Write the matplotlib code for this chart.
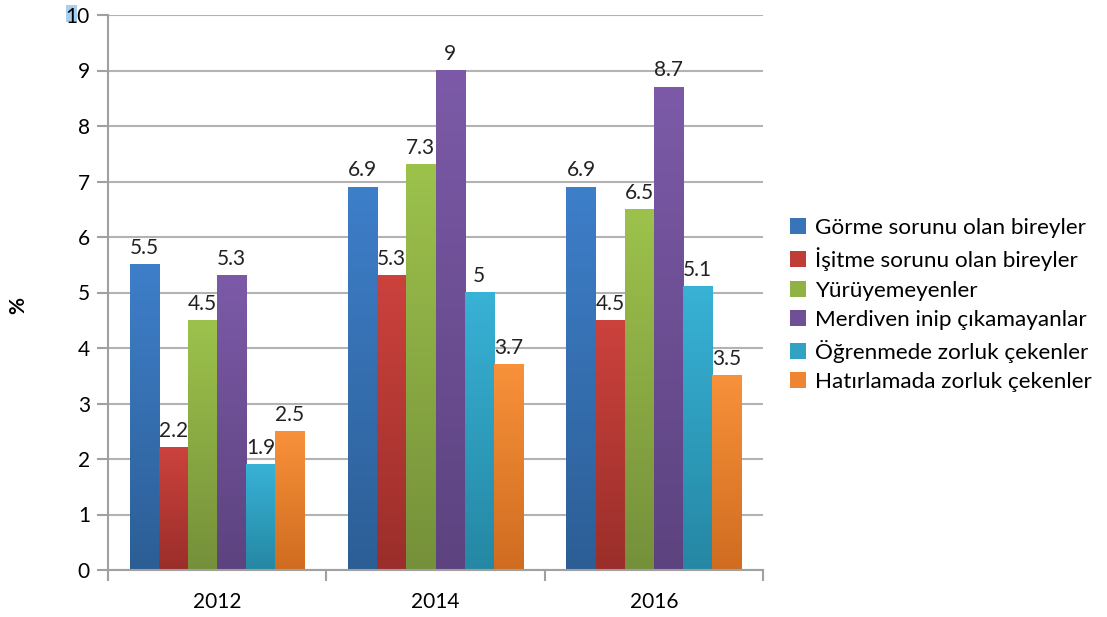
import numpy as np
import matplotlib
matplotlib.use("Agg")
import matplotlib.pyplot as plt
from matplotlib.colors import LinearSegmentedColormap
from matplotlib.patches import Patch, Rectangle

plt.rcParams['font.family'] = ['Lato', 'DejaVu Sans']

# data
years = ["2012", "2014", "2016"]
series = [
    "Görme sorunu olan bireyler",
    "İşitme sorunu olan bireyler",
    "Yürüyemeyenler",
    "Merdiven inip çıkamayanlar",
    "Öğrenmede zorluk çekenler",
    "Hatırlamada zorluk çekenler",
]
gorme = [5.5, 6.9, 6.9]
isitme = [2.2, 5.3, 4.5]
yuruyemeyen = [4.5, 7.3, 6.5]
merdiven = [5.3, 9.0, 8.7]
ogrenme = [1.9, 5.0, 5.1]
hatirlama = [2.5, 3.7, 3.5]
values = [gorme, isitme, yuruyemeyen, merdiven, ogrenme, hatirlama]

# top / bottom colours for the gradient fill
top_colors = ["#3e7fca", "#cc423d", "#9dc24c", "#7c5aa8", "#38b2d6", "#f8913a"]
bot_colors = ["#2c5e95", "#9a2e2a", "#75903a", "#5c437f", "#2587a3", "#cf6c20"]
legend_colors = ["#3a74b8", "#c03c38", "#8fb244", "#6f4f98", "#32a2c4", "#ee8530"]

fig = plt.figure(figsize=(11.07, 6.17), dpi=100)
ax = fig.add_axes([108 / 1107, 1 - 570 / 617, (763 - 108) / 1107, (570 - 15) / 617])

# selection highlight behind the "10" label
fig.patches.append(Rectangle((66 / 1107, 1 - 22 / 617), 11 / 1107, 17 / 617,
                             transform=fig.transFigure, facecolor="#a8cfee",
                             edgecolor="none", zorder=-1))

x = np.arange(len(years))
w = 0.1335
grad = np.linspace(0, 1, 256).reshape(-1, 1)
for i, name in enumerate(series):
    pos = x + (i - 2.5) * w
    bars = ax.bar(pos, values[i], w, color="none", edgecolor="none", zorder=2)
    cmap = LinearSegmentedColormap.from_list("g%d" % i, [bot_colors[i], top_colors[i]])
    for b, v in zip(bars, values[i]):
        ax.imshow(grad, cmap=cmap, origin="lower", aspect="auto", zorder=2,
                  extent=[b.get_x(), b.get_x() + b.get_width(), 0, v])
        ax.text(b.get_x() + b.get_width() / 2, v + 0.12, "%g" % v, ha="center", va="bottom",
                fontsize=15, color="#222222", zorder=3)

ax.set_xlim(-0.5, 2.5)
ax.set_ylim(0, 10)
ax.set_yticks(range(0, 11))
ax.set_xticks(x)
ax.set_xticklabels(years)
ax.set_xticks([-0.5, 0.5, 1.5, 2.5], minor=True)
ax.tick_params(axis="x", which="major", length=0, labelsize=15, pad=16)
ax.tick_params(axis="x", which="minor", length=8, color="#a0a0a0", width=1.5)
ax.tick_params(axis="y", length=8, color="#a0a0a0", width=1.5, labelsize=15, pad=5)

ax.grid(axis="y", color="#b3b3b3", linewidth=1.5, zorder=0)
for s in ["top", "right"]:
    ax.spines[s].set_visible(False)
for s in ["left", "bottom"]:
    ax.spines[s].set_color("#a0a0a0")
    ax.spines[s].set_linewidth(1.5)

fig.text(18 / 1107, 1 - 305 / 617, "%", rotation=90, ha="center", va="center",
         fontsize=15, fontweight="bold")

handles = [Patch(facecolor=c, edgecolor="none") for c in legend_colors]
ax.legend(handles, series, loc="center left", bbox_to_anchor=(790 / 1107, 1 - 305 / 617),
          bbox_transform=fig.transFigure, frameon=False, fontsize=16.2,
          handlelength=0.7, handleheight=0.7, handletextpad=0.4, labelspacing=0.42,
          borderaxespad=0, borderpad=0)

fig.savefig("out.png", dpi=100)
